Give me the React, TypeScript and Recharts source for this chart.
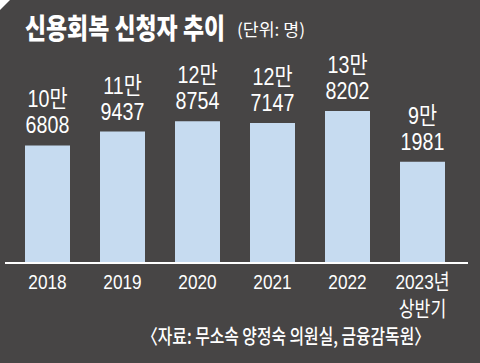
import React from "react";
import { BarChart, Bar, XAxis, YAxis, LabelList } from "recharts";

const categories = ["2018", "2019", "2020", "2021", "2022", "2023년|상반기"];
const applicants = [106808, 119437, 128754, 127147, 138202, 91981];
const titleText = "신용회복 신청자 추이";
const unitText = "(단위: 명)";
const sourceText = "〈자료: 무소속 양정숙 의원실, 금융감독원〉";

const data = categories.map((c, i) => ({ name: c, value: applicants[i] }));

const NUM_FONT = "'Liberation Sans', Arial, 'Noto Sans CJK KR', sans-serif";
const KR_FONT = "'Noto Sans CJK KR', 'Liberation Sans', sans-serif";
const BG = "#474545";
const BAR = "#c6dbf0";

const Narrow = ({ x, y, size, children, sx = 0.82 }: any) => (
  <g transform={`translate(${x},${y}) scale(${sx},1)`}>
    <text x={0} y={0} textAnchor="middle" fill="#fff" fontSize={size} fontFamily={NUM_FONT}>
      {children}
    </text>
  </g>
);

const ValueLabel = (props: any) => {
  const { x, y, width, value } = props;
  const cx = x + width / 2;
  const man = Math.floor(value / 10000);
  const rest = String(value % 10000).padStart(4, "0");
  return (
    <g>
      <Narrow x={cx} y={y - 38} size={24}>{`${man}만`}</Narrow>
      <Narrow x={cx} y={y - 12} size={24}>{rest}</Narrow>
    </g>
  );
};

const YearTick = (props: any) => {
  const { x, y, payload } = props;
  const parts = String(payload.value).split("|");
  return (
    <g>
      {parts.map((p: string, i: number) => (
        <Narrow key={i} x={x} y={y + 18 + i * 27} size={21}>{p}</Narrow>
      ))}
    </g>
  );
};

export default function App() {
  return (
    <div style={{ position: "fixed", left: 0, top: 0, width: 480, height: 363, background: BG, overflow: "hidden" }}>
      <BarChart width={480} height={363} data={data} margin={{ top: 60, right: 12, bottom: 0, left: 5 }} barSize={45}>
        <XAxis
          dataKey="name"
          axisLine={{ stroke: "#fff", strokeWidth: 2 }}
          tickLine={false}
          tick={<YearTick />}
          interval={0}
          padding={{ left: 5, right: 8 }}
          height={100}
        />
        <YAxis hide domain={[0, 184500]} />
        <Bar dataKey="value" fill={BAR} isAnimationActive={false}>
          <LabelList dataKey="value" content={<ValueLabel />} />
        </Bar>
      </BarChart>
      <svg width={480} height={363} style={{ position: "absolute", left: 0, top: 0, pointerEvents: "none" }}>
        <polygon points="0,0 10,0 0,10" fill="#fff" />
        <text x={25} y={39} fill="#fff" fontSize={28} fontWeight={800} fontFamily={KR_FONT} textLength={200} lengthAdjust="spacingAndGlyphs">
          {titleText}
        </text>
        <text x={237} y={36} fill="#fff" fontSize={17} fontFamily={KR_FONT} textLength={68} lengthAdjust="spacingAndGlyphs">
          {unitText}
        </text>
        <text x={142} y={344} fill="#fff" fontSize={20} fontWeight={500} fontFamily={KR_FONT} textLength={288} lengthAdjust="spacingAndGlyphs">
          {sourceText}
        </text>
      </svg>
    </div>
  );
}
